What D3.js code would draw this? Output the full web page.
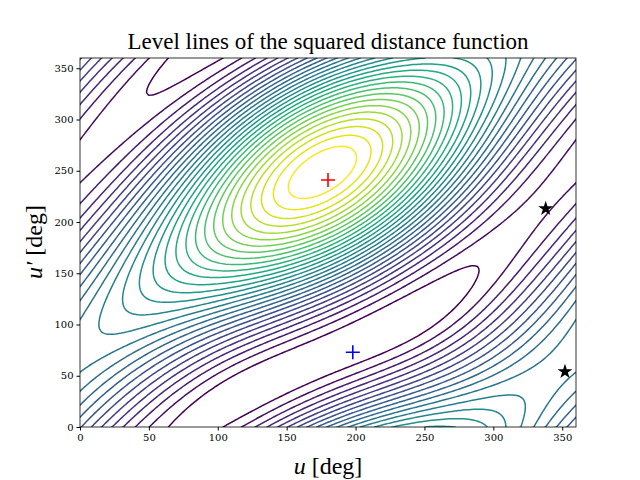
<!DOCTYPE html><html><head><script src="https://d3js.org/d3.v7.min.js"></script>
<style>body{margin:0;background:#fff}</style></head><body><svg id="c" width="640" height="480"></svg>
<script>
const xTicks=[0,50,100,150,200,250,300,350], yTicks=[0,50,100,150,200,250,300,350];
// initial orbit parameters: e1, a2, e2, omega2, node2, inc2 (orbit1 has a=1)
const orbitStart=[0.35,1.2,0.2,95,0,20];
const maxPt=[[180,241]], saddlePt=[[198,73]], minPts=[[338,213],[352,54]];
const nLevels=30;
const R=Math.PI/180;
function pos(a,e,w,Om,i,u){const b=a*Math.sqrt(1-e*e);let x=a*(Math.cos(u*R)-e),y=b*Math.sin(u*R);
 const c=Math.cos(w*R),s=Math.sin(w*R);let X=c*x-s*y,Y=s*x+c*y;let Z=Y*Math.sin(i*R);Y=Y*Math.cos(i*R);
 const c2=Math.cos(Om*R),s2=Math.sin(Om*R);return [c2*X-s2*Y,s2*X+c2*Y,Z];}
function grid(p,N){const st=360/(N-1),v=new Array(N*N);
 for(let j=0;j<N;j++){const q=pos(p[1],p[2],p[3],p[4],p[5],j*st);
  for(let k=0;k<N;k++){const P=pos(1,p[0],0,0,0,k*st);v[j*N+k]=(P[0]-q[0])**2+(P[1]-q[1])**2+(P[2]-q[2])**2;}}return v;}
function crit(p){const N=121,M=120,st=3,v=grid(p,N),mx=[],mn=[];
 const g=(j,k)=>v[((j+M)%M)*N+((k+M)%M)];
 for(let j=0;j<M;j++)for(let k=0;k<M;k++){const c=g(j,k);let nb=[g(j-1,k-1),g(j-1,k),g(j-1,k+1),g(j,k+1),g(j+1,k+1),g(j+1,k),g(j+1,k-1),g(j,k-1)];
  if(nb.every(a=>a<c))mx.push([k*st,j*st]);else if(nb.every(a=>a>c))mn.push([k*st,j*st]);}
 return {mx,mn};}
function dd(a,b){let dx=Math.abs(a[0]-b[0]),dy=Math.abs(a[1]-b[1]);dx=Math.min(dx,360-dx);dy=Math.min(dy,360-dy);return Math.hypot(dx,dy);}
function cost(p){if(p[0]<0.1||p[0]>0.7||p[2]<0||p[2]>0.6||p[5]<5||p[5]>40)return 1e9;const c=crit(p);
 const f=(T,L)=>T.reduce((s,t)=>s+Math.min(80,L.length?Math.min(...L.map(l=>dd(l,t))):80)**2,0);
 return f(maxPt,c.mx)+0.3*f(minPts,c.mn)+ (c.mn.length!==2?2000:0);}
let p=orbitStart.slice(),best=cost(p),steps=[0.05,0,0.05,6,6,5];
for(let it=0;it<4;it++){let imp=true,n=0;while(imp&&n<30){n++;imp=false;for(let d=0;d<6;d++){if(!steps[d])continue;for(const sg of [1,-1]){const q=p.slice();q[d]+=sg*steps[d];const c=cost(q);if(c<best){best=c;p=q;imp=true;}}}}steps=steps.map(s=>s/2);}
const N=181;
const vals=grid(p,N);
const svg=d3.select("#c");
const L=80,Rr=576,T=58,B=427;
const x=d3.scaleLinear([0,360],[L,Rr]), y=d3.scaleLinear([0,360],[B,T]);
const ext=d3.extent(vals);
const th=d3.range(1,nLevels).map(i=>ext[0]+(ext[1]-ext[0])*i/nLevels);
const col=d3.scaleSequential(d3.interpolateViridis).domain([th[0],th[th.length-1]]);
const cs=d3.contours().size([N,N]).smooth(true).thresholds(th)(vals);
svg.append("clipPath").attr("id","cl").append("rect").attr("x",L).attr("y",T).attr("width",Rr-L).attr("height",B-T);
const proj=d3.geoTransform({point:function(px,py){this.stream.point(x((px-0.5)*2),y((py-0.5)*2));}});
const path=d3.geoPath(proj);
const g=svg.append("g").attr("clip-path","url(#cl)");
cs.forEach(c=>{g.append("path").attr("d",path(c)).attr("fill","none").attr("stroke",col(c.value)).attr("stroke-width",1.5);});
svg.append("rect").attr("x",L).attr("y",T).attr("width",Rr-L).attr("height",B-T).attr("fill","none").attr("stroke","#000").attr("stroke-width",0.8);
svg.append("g").attr("transform",`translate(0,${B})`).call(d3.axisBottom(x).tickValues(xTicks).tickSize(3.5).tickSizeOuter(0)).call(a=>{a.select(".domain").remove();a.selectAll("text").attr("font-family","DejaVu Serif").attr("font-size",10);});
svg.append("g").attr("transform",`translate(${L},0)`).call(d3.axisLeft(y).tickValues(yTicks).tickSize(3.5).tickSizeOuter(0)).call(a=>{a.select(".domain").remove();a.selectAll("text").attr("font-family","DejaVu Serif").attr("font-size",10);});
const m=g.append("g");
function cross(p,c){m.append("path").attr("d",`M${x(p[0])-7},${y(p[1])}h14M${x(p[0])},${y(p[1])-7}v14`).attr("stroke",c).attr("stroke-width",1.6);}
maxPt.forEach(p=>cross(p,"red"));saddlePt.forEach(p=>cross(p,"blue"));
svg.selectAll(".st").data(minPts).join("path").attr("d",d3.symbol(d3.symbolStar,70)).attr("transform",d=>`translate(${x(d[0])},${y(d[1])})`).attr("fill","#000");
svg.append("text").attr("x",328).attr("y",49).attr("text-anchor","middle").attr("font-family","Liberation Serif").attr("font-size",23).text("Level lines of the squared distance function");
const xl=svg.append("text").attr("x",328).attr("y",474).attr("text-anchor","middle").attr("font-family","Liberation Serif").attr("font-size",24);
xl.append("tspan").attr("font-style","italic").text("u");xl.append("tspan").text(" [deg]");
const yl=svg.append("text").attr("transform","translate(42,242) rotate(-90)").attr("text-anchor","middle").attr("font-family","Liberation Serif").attr("font-size",24);
yl.append("tspan").attr("font-style","italic").text("u′");yl.append("tspan").text(" [deg]");
</script></body></html>
